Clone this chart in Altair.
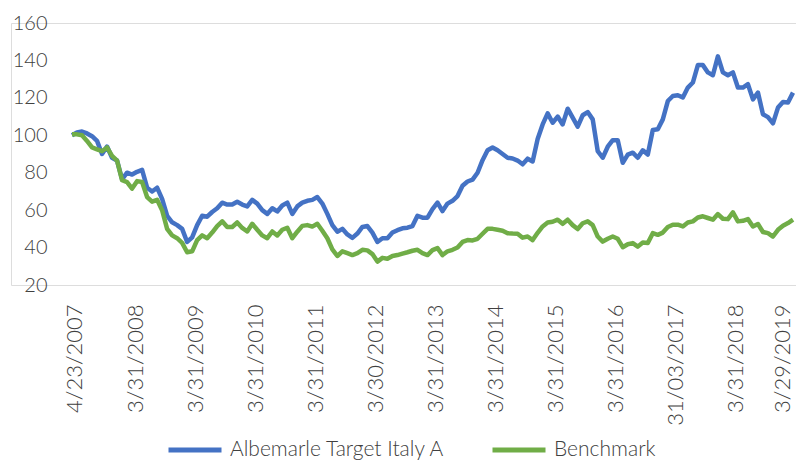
import altair as alt
import pandas as pd

series_names = ["Albemarle Target Italy A", "Benchmark"]
series_colors = ["#4472C4", "#70AD47"]

tick_labels = ["4/23/2007", "3/31/2008", "3/31/2009", "3/31/2010", "3/31/2011",
               "3/30/2012", "3/31/2013", "3/31/2014", "3/31/2015", "3/31/2016",
               "31/03/2017", "3/31/2018", "3/29/2019"]
tick_index = [0, 12, 24, 36, 48, 60, 72, 84, 96, 108, 120, 132, 144]

albemarle = [
    100, 101.5, 102, 101, 99.5, 97, 90, 94, 88, 86.5,
    76.5, 80, 79, 80.5, 81.5, 72, 70, 72, 66, 57,
    53.5, 52, 50, 43, 45.5, 52, 57, 56.5, 59, 61,
    64, 63, 63, 64.5, 63, 62, 65.5, 63.5, 60, 58,
    61, 59.3, 62.5, 64, 58, 62, 64, 65, 65.5, 67,
    63.5, 58, 52, 48.5, 50, 47, 45.2, 47.5, 51, 51.5,
    48, 43, 45, 45, 48, 49.3, 50.3, 50.6, 51.5, 57,
    56, 56, 60.5, 64, 59.5, 63.5, 65, 67.5, 73, 75.3,
    76.3, 80, 86.7, 92, 93.5, 92, 90, 88, 87.6, 86.5,
    84.5, 87.5, 86, 98,
    105.8, 111.7, 106.7, 110, 105.8, 114.2, 109.4, 104.6, 110.7, 112.4,
    108.5, 91.5, 88, 93.9, 97.4, 97.4, 85.3, 89.7, 90.7, 88,
    92, 89.7, 102.8, 103.2, 108.5, 118.3, 121, 121.4, 120.2, 125.5,
    128.2, 137.5, 137.5, 133.6, 132.1, 142.2, 133.6, 132.1, 133.6, 125.5,
    125.5, 127.3, 119.2, 122.8, 111.2, 109.7, 106.4, 114.8, 117.8, 117.5,
    122.8,
]

benchmark = [
    100.5, 100.5, 100, 97, 93.5, 92.5, 91.5, 93.5, 89, 86.5,
    76, 75, 71.5, 75.5, 75, 67, 64.5, 65.5, 60, 50,
    46.5, 45, 42.5, 37.5, 38, 44, 46.5, 45, 48, 51.5,
    54, 51, 51, 53.4, 50.5, 48.6, 52.7, 49.5, 46.5, 45,
    48.6, 46.5, 49.5, 50.6, 45, 48.5, 51.6, 52, 51.2, 52.7,
    49, 45, 39, 35.5, 38, 37, 36, 37, 38.8, 38.5,
    36.5, 32.5, 34.5, 34, 35.5, 36, 36.8, 37.5, 38.3, 38.8,
    37, 36, 38.6, 39.7, 36, 38, 38.8, 40, 43, 44,
    43.8, 44.7, 47.4, 50, 50, 49.5, 49, 47.7, 47.5, 47.4,
    45.3, 45.9, 44, 47.9,
    51.3, 53.4, 53.8, 54.9, 52.7, 54.9, 52, 49.9, 53, 54,
    52, 45.9, 43.2, 44.7, 45.9, 44.7, 40.2, 41.8, 42.4, 40.5,
    42.7, 42.4, 47.7, 46.8, 48, 51, 52.2, 52.2, 51.3, 53.4,
    54, 56.1, 56.7, 55.8, 54.9, 57.9, 55.4, 55.2, 58.8, 54,
    54.3, 55.2, 51.3, 52.6, 48.3, 47.7, 45.9, 49.5, 51.7, 53.1,
    54.9,
]

rows = []
for name, vals in zip(series_names, [albemarle, benchmark]):
    for i, v in enumerate(vals):
        rows.append({"idx": i, "value": v, "series": name})
df = pd.DataFrame(rows)

label_js = "[" + ",".join("'" + t + "'" for t in tick_labels) + "]"
label_expr = label_js + "[round(datum.value / 12)]"

FONT = "Lato"
WEIGHT = 300
TXT = "#404040"

chart = alt.Chart(df).mark_line(strokeWidth=4.5, strokeJoin="round").encode(
    x=alt.X("idx:Q",
            scale=alt.Scale(domain=[-12.18, 144.6], nice=False, zero=False),
            axis=alt.Axis(values=tick_index, labelExpr=label_expr, labelAngle=270,
                          labelPadding=19, ticks=False, domain=False, grid=False,
                          title=None, labelFont=FONT, labelFontSize=22,
                          labelFontWeight=WEIGHT,
                          labelOffset={"condition": {"test": "datum.value == 144",
                                                     "value": -10},
                                       "value": 3},
                          labelColor=TXT, labelOverlap=False)),
    y=alt.Y("value:Q",
            scale=alt.Scale(domain=[20, 160], nice=False, zero=False),
            axis=alt.Axis(values=[20, 40, 60, 80, 100, 120, 140, 160],
                          ticks=False, domain=False, grid=False, title=None,
                          labelPadding=-36, labelFont=FONT, labelFontSize=20,
                          labelFontWeight=WEIGHT,
                          labelColor=TXT, zindex=1)),
    color=alt.Color("series:N",
                    scale=alt.Scale(domain=series_names, range=series_colors),
                    legend=alt.Legend(orient="none", legendX=155, legendY=398,
                                      direction="horizontal", title=None,
                                      symbolType="stroke", symbolSize=2809,
                                      symbolStrokeWidth=5, labelFont=FONT,
                                      labelFontSize=21, labelFontWeight=WEIGHT,
                                      labelColor=TXT,
                                      labelOffset=6, columnPadding=36,
                                      padding=0, labelLimit=400)),
).properties(
    width=785, height=262,
    autosize=alt.AutoSizeParams(type="none"),
    padding={"left": 3, "top": 15, "right": 0, "bottom": 178},
).configure_view(
    fill="#E7E6E6", stroke=None
).configure(background="white")

chart.save("out.html", embed_options={"renderer": "svg", "actions": False})
